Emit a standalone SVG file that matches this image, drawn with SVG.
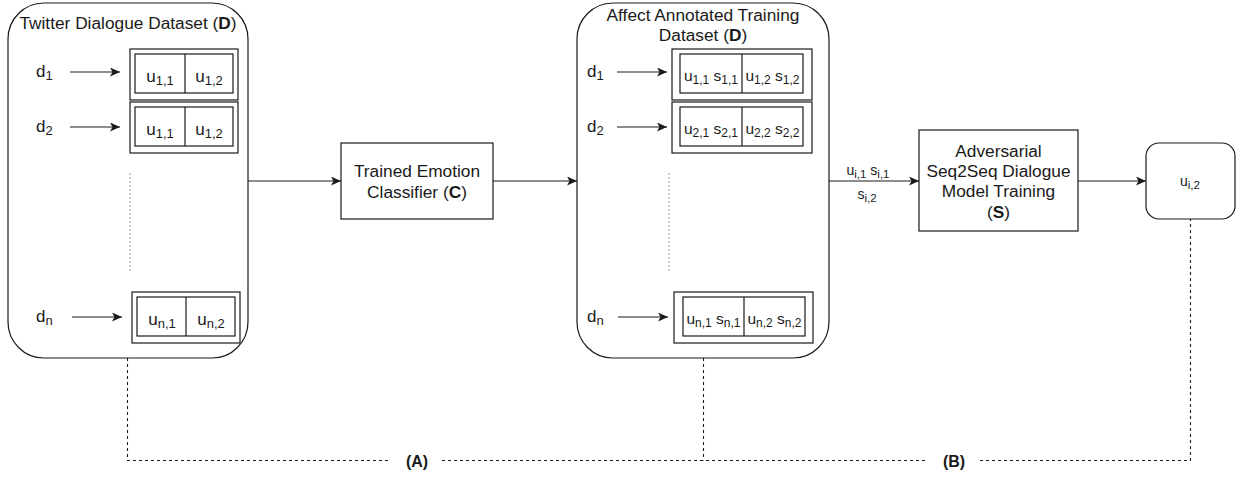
<svg xmlns="http://www.w3.org/2000/svg" width="1241" height="477" viewBox="0 0 1241 477">
<defs>
<marker id="arr" markerUnits="userSpaceOnUse" markerWidth="12" markerHeight="10" refX="10" refY="4.5" orient="auto">
<path d="M0,0 L10,4.5 L0,9 L2.5,4.5 z" fill="#1a1a1a"/>
</marker>
<style>
.box{fill:#fff;stroke:#1a1a1a;stroke-width:1.2}
.ln{fill:none;stroke:#1a1a1a;stroke-width:1.2}
.dash{fill:none;stroke:#1a1a1a;stroke-width:1.1;stroke-dasharray:3 3}
.dot{fill:none;stroke:#999;stroke-width:1;stroke-dasharray:2 2}
text{font-family:"Liberation Sans",Arial,sans-serif;fill:#1a1a1a}
.t{font-size:17.3px}
.c{font-size:17px}
.s{font-size:13px}
.c2{font-size:15.5px}
.s2{font-size:12px}
.m{font-size:14px}
.ms{font-size:11.5px}
.mid{text-anchor:middle}
</style>
</defs>

<g id="twitter-dataset">
<rect class="box" x="8" y="3" width="240" height="355" rx="36" ry="36"/>
<text class="t mid" x="128" y="29">Twitter Dialogue Dataset (<tspan font-weight="bold">D</tspan>)</text>
<text class="c" x="36" y="77">d<tspan class="s" dy="3">1</tspan></text>
<text class="c" x="36" y="132">d<tspan class="s" dy="3">2</tspan></text>
<text class="c" x="36" y="322">d<tspan class="s" dy="3">n</tspan></text>
<rect class="box" x="130" y="49" width="108" height="51"/>
<rect class="box" x="135" y="54" width="98" height="39"/>
<line class="ln" x1="185" y1="54" x2="185" y2="93"/>
<text class="c mid" x="160" y="82">u<tspan class="s" dy="3">1,1</tspan></text>
<text class="c mid" x="209" y="82">u<tspan class="s" dy="3">1,2</tspan></text>
<rect class="box" x="130" y="102" width="108" height="51"/>
<rect class="box" x="135" y="107" width="98" height="39"/>
<line class="ln" x1="185" y1="107" x2="185" y2="146"/>
<text class="c mid" x="160" y="135">u<tspan class="s" dy="3">1,1</tspan></text>
<text class="c mid" x="209" y="135">u<tspan class="s" dy="3">1,2</tspan></text>
<line class="dot" x1="130" y1="173" x2="130" y2="272"/>
<rect class="box" x="132" y="292" width="108" height="51"/>
<rect class="box" x="137" y="297" width="98" height="39"/>
<line class="ln" x1="186" y1="297" x2="186" y2="336"/>
<text class="c mid" x="162" y="325">u<tspan class="s" dy="3">n,1</tspan></text>
<text class="c mid" x="211" y="325">u<tspan class="s" dy="3">n,2</tspan></text>
</g>

<g id="emotion-classifier">
<rect class="box" x="341" y="143" width="152" height="76"/>
<text class="t mid" x="417" y="177">Trained Emotion</text>
<text class="t mid" x="417" y="198">Classifier (<tspan font-weight="bold">C</tspan>)</text>
</g>

<g id="affect-dataset">
<rect class="box" x="577" y="3" width="252" height="355" rx="36" ry="36"/>
<text class="t mid" x="703" y="21">Affect Annotated Training</text>
<text class="t mid" x="703" y="41">Dataset (<tspan font-weight="bold">D</tspan>)</text>
<text class="c" x="587" y="77">d<tspan class="s" dy="3">1</tspan></text>
<text class="c" x="587" y="132">d<tspan class="s" dy="3">2</tspan></text>
<text class="c" x="587" y="322">d<tspan class="s" dy="3">n</tspan></text>
<rect class="box" x="672" y="49" width="140" height="51"/>
<rect class="box" x="680" y="54" width="123" height="39"/>
<line class="ln" x1="742" y1="54" x2="742" y2="93"/>
<text class="c2 mid" x="711" y="81">u<tspan class="s2" dy="2.5">1,1</tspan><tspan dy="-2.5"> s</tspan><tspan class="s2" dy="2.5">1,1</tspan></text>
<text class="c2 mid" x="772.5" y="81">u<tspan class="s2" dy="2.5">1,2</tspan><tspan dy="-2.5"> s</tspan><tspan class="s2" dy="2.5">1,2</tspan></text>
<rect class="box" x="672" y="102" width="140" height="51"/>
<rect class="box" x="680" y="107" width="123" height="39"/>
<line class="ln" x1="742" y1="107" x2="742" y2="146"/>
<text class="c2 mid" x="711" y="134">u<tspan class="s2" dy="2.5">2,1</tspan><tspan dy="-2.5"> s</tspan><tspan class="s2" dy="2.5">2,1</tspan></text>
<text class="c2 mid" x="772.5" y="134">u<tspan class="s2" dy="2.5">2,2</tspan><tspan dy="-2.5"> s</tspan><tspan class="s2" dy="2.5">2,2</tspan></text>
<line class="dot" x1="669" y1="173" x2="669" y2="272"/>
<rect class="box" x="674" y="292" width="139" height="51"/>
<rect class="box" x="683" y="297" width="122" height="39"/>
<line class="ln" x1="744" y1="297" x2="744" y2="336"/>
<text class="c2 mid" x="713.5" y="324">u<tspan class="s2" dy="2.5">n,1</tspan><tspan dy="-2.5"> s</tspan><tspan class="s2" dy="2.5">n,1</tspan></text>
<text class="c2 mid" x="774.5" y="324">u<tspan class="s2" dy="2.5">n,2</tspan><tspan dy="-2.5"> s</tspan><tspan class="s2" dy="2.5">n,2</tspan></text>
</g>

<g id="seq2seq">
<rect class="box" x="919" y="130" width="159" height="101"/>
<text class="t mid" x="998.5" y="157">Adversarial</text>
<text class="t mid" x="998.5" y="177">Seq2Seq Dialogue</text>
<text class="t mid" x="998.5" y="197">Model Training</text>
<text class="t mid" x="998.5" y="218">(<tspan font-weight="bold">S</tspan>)</text>
</g>

<g id="output">
<rect class="box" x="1146" y="143" width="89" height="76" rx="13" ry="13"/>
<text class="m mid" x="1190" y="186">u<tspan class="ms" dy="3">i,2</tspan></text>
</g>

<g id="connectors">
<line class="ln" x1="70" y1="72" x2="120" y2="72" marker-end="url(#arr)"/>
<line class="ln" x1="70" y1="127" x2="120" y2="127" marker-end="url(#arr)"/>
<line class="ln" x1="72" y1="317" x2="122" y2="317" marker-end="url(#arr)"/>
<line class="ln" x1="617" y1="72" x2="667" y2="72" marker-end="url(#arr)"/>
<line class="ln" x1="617" y1="127" x2="667" y2="127" marker-end="url(#arr)"/>
<line class="ln" x1="618" y1="317" x2="668" y2="317" marker-end="url(#arr)"/>
<line class="ln" x1="248" y1="181" x2="341" y2="181" marker-end="url(#arr)"/>
<line class="ln" x1="493" y1="181" x2="577" y2="181" marker-end="url(#arr)"/>
<line class="ln" x1="829" y1="181" x2="919" y2="181" marker-end="url(#arr)"/>
<line class="ln" x1="1078" y1="181" x2="1146" y2="181" marker-end="url(#arr)"/>
<text class="m mid" x="868" y="175">u<tspan class="ms" dy="3">i,1</tspan><tspan dy="-3"> s</tspan><tspan class="ms" dy="3">i,1</tspan></text>
<text class="m mid" x="867" y="199">s<tspan class="ms" dy="3">i,2</tspan></text>
<path class="dash" d="M127.5,358 V460.5 H389 M442,460.5 H926 M980,460.5 H1190.5 V219"/>
<line class="dash" x1="703.5" y1="358" x2="703.5" y2="460.5"/>
<text class="mid" x="417" y="467" font-size="16" font-weight="bold">(A)</text>
<text class="mid" x="954" y="467" font-size="16" font-weight="bold">(B)</text>
</g>
</svg>
